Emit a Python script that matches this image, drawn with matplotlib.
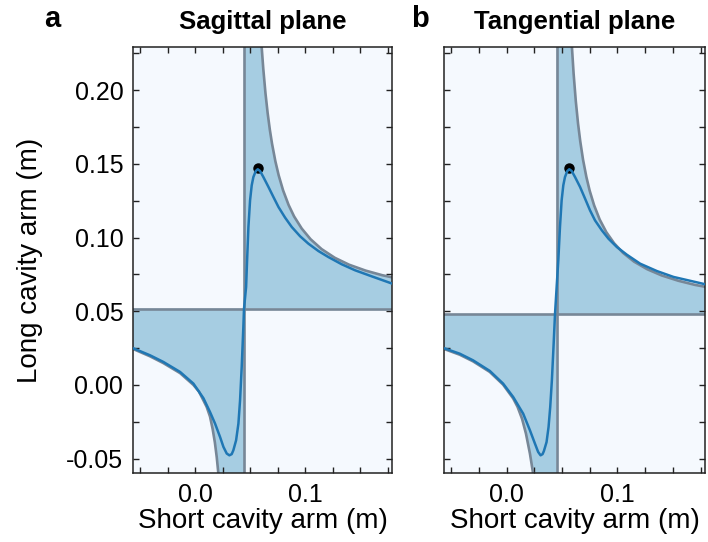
import matplotlib
matplotlib.use("Agg")
import matplotlib.pyplot as plt
from matplotlib.ticker import MultipleLocator, FormatStrFormatter

plt.rcParams['font.family'] = ['Liberation Sans', 'DejaVu Sans']
plt.rcParams['axes.unicode_minus'] = False

# ---------------- data ----------------
panel_letters = ["a", "b"]
panel_titles = ["Sagittal plane", "Tangential plane"]
x_label = "Short cavity arm (m)"
y_label = "Long cavity arm (m)"
x_limits = (-0.0564, 0.179)
y_limits = (-0.0598, 0.2294)

# Sagittal plane
sag_x0 = 0.0445
sag_y0 = 0.0518
sag_upper_x = [0.0598, 0.0606, 0.0620, 0.0640, 0.0660, 0.0680, 0.0700, 0.0730, 0.0760,
               0.0800, 0.0850, 0.0900, 0.0970, 0.1050, 0.1150, 0.1270, 0.1400, 0.1550,
               0.1700, 0.1850]
sag_upper_y = [0.2381, 0.2288, 0.2147, 0.1980, 0.1844, 0.1731, 0.1636, 0.1518, 0.1423,
               0.1321, 0.1222, 0.1144, 0.1061, 0.0989, 0.0922, 0.0863, 0.0816, 0.0776,
               0.0745, 0.0721]
sag_lower_x = [-0.0600, -0.0566, -0.0409, -0.0288, -0.0136, -0.0015, 0.0035, 0.0076,
               0.0106, 0.0136, 0.0160, 0.0180, 0.0197, 0.0212, 0.0220]
sag_lower_y = [0.0262, 0.0245, 0.0194, 0.0148, 0.0080, 0.0000, -0.0045, -0.0105,
               -0.0150, -0.0215, -0.0300, -0.0390, -0.0490, -0.0602, -0.0680]
sag_curve_x = [-0.0566, -0.0409, -0.0288, -0.0136, -0.0015, 0.0076, 0.0136, 0.0182,
               0.0227, 0.0258, 0.0288, 0.0312, 0.0333, 0.0348, 0.0373, 0.0394, 0.0409,
               0.0424, 0.0439, 0.0445, 0.0464, 0.0473, 0.0485, 0.0500, 0.0515, 0.0530,
               0.0552, 0.0570, 0.0591, 0.0621, 0.0667, 0.0712, 0.0758, 0.0818, 0.0879,
               0.0955, 0.1030, 0.1121, 0.1212, 0.1333, 0.1455, 0.1606, 0.1790]
sag_curve_y = [0.0250, 0.0201, 0.0156, 0.0088, 0.0009, -0.0090, -0.0184, -0.0263,
               -0.0353, -0.0421, -0.0466, -0.0478, -0.0470, -0.0444, -0.0376, -0.0263, -0.0105,
               0.0122, 0.0394, 0.0518, 0.0665, 0.0846, 0.1072, 0.1253, 0.1355, 0.1411,
               0.1452, 0.1464, 0.1452, 0.1411, 0.1344, 0.1276, 0.1208, 0.1136, 0.1072,
               0.1009, 0.0959, 0.0909, 0.0868, 0.0819, 0.0778, 0.0737, 0.0688]
sag_point = (0.0570, 0.1475)

# Tangential plane
tan_x0 = 0.0452
tan_y0 = 0.0479
tan_upper_x = [0.0582, 0.0590, 0.0605, 0.0625, 0.0645, 0.0665, 0.0690, 0.0720, 0.0750,
               0.0790, 0.0840, 0.0900, 0.0970, 0.1050, 0.1150, 0.1270, 0.1400, 0.1550,
               0.1700, 0.1850]
tan_upper_y = [0.2402, 0.2291, 0.2113, 0.1924, 0.1774, 0.1653, 0.1529, 0.1412, 0.1318,
               0.1219, 0.1123, 0.1037, 0.0962, 0.0897, 0.0837, 0.0785, 0.0743, 0.0707,
               0.0679, 0.0658]
tan_lower_x = [-0.0600, -0.0567, -0.0422, -0.0302, -0.0151, -0.0031, 0.0060, 0.0100,
               0.0140, 0.0175, 0.0211, 0.0240, 0.0252]
tan_lower_y = [0.0262, 0.0245, 0.0205, 0.0160, 0.0088, 0.0002, -0.0092, -0.0150,
               -0.0230, -0.0330, -0.0466, -0.0602, -0.0680]
tan_curve_x = [-0.0567, -0.0422, -0.0302, -0.0151, -0.0031, 0.0060, 0.0150, 0.0211,
               0.0256, 0.0285, 0.0307, 0.0325, 0.0337, 0.0361, 0.0379, 0.0394, 0.0409,
               0.0425, 0.0437, 0.0452, 0.0467, 0.0482, 0.0497, 0.0512, 0.0527, 0.0548,
               0.0566, 0.0588, 0.0618, 0.0663, 0.0708, 0.0753, 0.0798, 0.0859, 0.0919,
               0.0995, 0.1085, 0.1205, 0.1356, 0.1506, 0.1793]
tan_curve_y = [0.0250, 0.0212, 0.0167, 0.0095, 0.0009, -0.0082, -0.0195, -0.0308,
               -0.0398, -0.0455, -0.0478, -0.0470, -0.0449, -0.0388, -0.0286, -0.0150, 0.0031,
               0.0280, 0.0479, 0.0665, 0.0846, 0.1072, 0.1253, 0.1355, 0.1411, 0.1452,
               0.1464, 0.1452, 0.1411, 0.1344, 0.1265, 0.1185, 0.1117, 0.1050, 0.0993,
               0.0936, 0.0884, 0.0823, 0.0773, 0.0733, 0.0683]
tan_point = (0.0566, 0.1475)

panels = [
    (sag_x0, sag_y0, sag_upper_x, sag_upper_y, sag_lower_x, sag_lower_y,
     sag_curve_x, sag_curve_y, sag_point),
    (tan_x0, tan_y0, tan_upper_x, tan_upper_y, tan_lower_x, tan_lower_y,
     tan_curve_x, tan_curve_y, tan_point),
]

# ---------------- styling ----------------
bg_color = '#f5f9fe'
fill_color = '#a6cde2'
edge_color = '#778797'
curve_color = '#1f77b4'

fig = plt.figure(figsize=(7.08, 5.42), dpi=100)
axes_rects = [
    [133 / 708, 1 - 473 / 542, 259 / 708, 426 / 542],
    [444 / 708, 1 - 473 / 542, 261 / 708, 426 / 542],
]

for i, (x0, y0, ux, uy, lx, ly, cx, cy, pt) in enumerate(panels):
    ax = fig.add_axes(axes_rects[i])
    ax.set_facecolor(bg_color)

    # shaded stability regions
    top_poly_x = [x0, x0] + ux + [ux[-1]]
    top_poly_y = [y0, uy[0]] + uy + [y0]
    ax.fill(top_poly_x, top_poly_y, color=fill_color, lw=0, zorder=1)
    bot_poly_x = [x0, x0] + lx[::-1] + [lx[0]]
    bot_poly_y = [y0, ly[-1]] + ly[::-1] + [y0]
    ax.fill(bot_poly_x, bot_poly_y, color=fill_color, lw=0, zorder=1)

    # boundaries
    ax.axvline(x0, color=edge_color, lw=1.9, zorder=2)
    ax.axhline(y0, color=edge_color, lw=1.9, zorder=2)
    ax.plot(ux, uy, color=edge_color, lw=1.9, zorder=2, solid_joinstyle='round')
    ax.plot(lx, ly, color=edge_color, lw=1.9, zorder=2, solid_joinstyle='round')

    # curve and point
    ax.plot([pt[0]], [pt[1]], 'o', color='black', ms=6.5, zorder=3)
    ax.plot(cx, cy, color=curve_color, lw=1.8, zorder=4, solid_joinstyle='round')

    ax.set_xlim(*x_limits)
    ax.set_ylim(*y_limits)

    ax.xaxis.set_major_locator(MultipleLocator(0.1))
    ax.xaxis.set_minor_locator(MultipleLocator(0.025))
    ax.yaxis.set_major_locator(MultipleLocator(0.05))
    ax.yaxis.set_minor_locator(MultipleLocator(0.025))
    ax.xaxis.set_major_formatter(FormatStrFormatter('%.1f'))
    ax.yaxis.set_major_formatter(FormatStrFormatter('%.2f'))
    ax.tick_params(which='both', direction='in', top=True, right=True,
                   length=4, width=1, color='#222222', labelsize=18, pad=7)

    for sp in ax.spines.values():
        sp.set_color('#222222')
        sp.set_linewidth(1.1)

    ax.set_xlabel(x_label, fontsize=20, labelpad=1)
    if i == 0:
        ax.set_ylabel(y_label, fontsize=20, labelpad=17)
    else:
        ax.tick_params(labelleft=False)

    ax.set_title(panel_titles[i], fontsize=18.5, fontweight='bold', pad=13)

fig.text(52 / 708, 1 - 19 / 542, panel_letters[0], fontsize=21, fontweight='bold',
         ha='center', va='center')
fig.text(420 / 708, 1 - 19 / 542, panel_letters[1], fontsize=21, fontweight='bold',
         ha='center', va='center')

fig.savefig('out.png', dpi=100)
